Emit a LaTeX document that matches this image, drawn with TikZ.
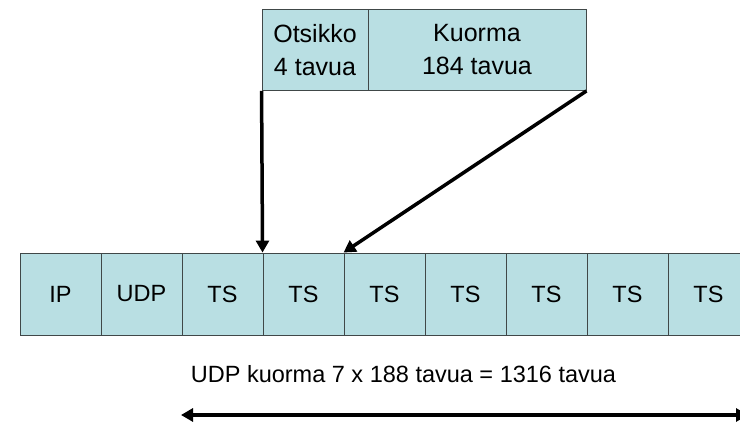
\documentclass[tikz,border=0pt]{standalone}
\usepackage{fontspec}
\setmainfont{Liberation Sans}
\usetikzlibrary{arrows.meta}
\definecolor{cellfill}{HTML}{B9DFE3}
\definecolor{cellline}{HTML}{404848}
\begin{document}
\begin{tikzpicture}[x=1pt,y=-1pt,
  cell/.style={draw=cellline,line width=0.9pt,fill=cellfill,inner sep=0pt,
    minimum height=82pt,font=\fontsize{23.5}{26}\selectfont},
  hcell/.style={draw=cellline,line width=0.9pt,fill=cellfill,inner sep=0pt,
    minimum height=81pt,align=center,font=\fontsize{25}{33}\selectfont},
  bigarrow/.style={line width=3.5pt,-{Triangle[length=12pt,width=13pt]}},
  span/.style={line width=3.5pt,{Triangle[length=12pt,width=13pt]}-{Triangle[length=12pt,width=13pt]}}]
\useasboundingbox (0,0) rectangle (740,422);
\begin{scope}
\clip (0,0) rectangle (740,422);
% TS packet: header and payload
\node[hcell,minimum width=106pt] (hdr) at (315,50) {Otsikko\\4 tavua};
\node[hcell,minimum width=218pt] (pay) at (477,50) {Kuorma\\184 tavua};
% UDP datagram cells
\node[cell,minimum width=81pt] (c1) at (60.5,294) {IP};
\node[cell,minimum width=81pt] (c2) at (141.5,294) {UDP};
\node[cell,minimum width=81pt] (c3) at (222.5,294) {TS};
\node[cell,minimum width=81pt] (c4) at (303.5,294) {TS};
\node[cell,minimum width=81pt] (c5) at (384.5,294) {TS};
\node[cell,minimum width=81pt] (c6) at (465.5,294) {TS};
\node[cell,minimum width=81pt] (c7) at (546.5,294) {TS};
\node[cell,minimum width=81pt] (c8) at (627.5,294) {TS};
\node[cell,minimum width=81pt] (c9) at (708.5,294) {TS};
% mapping arrows
\draw[bigarrow] (hdr.south west) -- (c4.north west);
\draw[bigarrow] (pay.south east) -- (c5.north west);
% payload length
\node[font=\fontsize{23.5}{26}\selectfont] (lbl) at (403.5,374) {UDP kuorma 7 x 188 tavua = 1316 tavua};
\coordinate (sl) at (181,415);
\coordinate (sr) at (748,415);
\draw[span] (sl) -- (sr);
\end{scope}
\end{tikzpicture}
\end{document}
